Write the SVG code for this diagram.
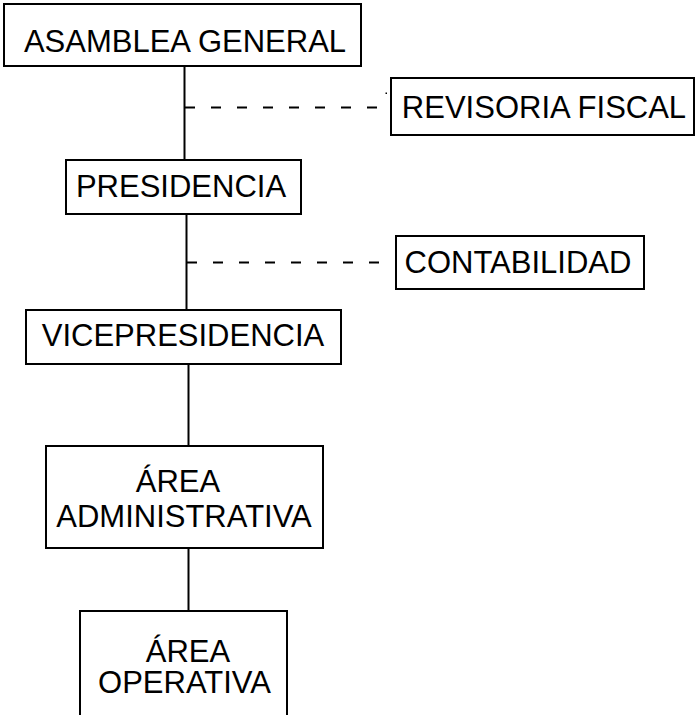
<svg xmlns="http://www.w3.org/2000/svg" width="695" height="715" viewBox="0 0 695 715">
<style>
.box{fill:#fff;stroke:#000;stroke-width:2}
.t{font-family:"Liberation Sans",Arial,sans-serif;font-size:31px;fill:#000;text-anchor:middle}
.ln{stroke:#000;stroke-width:2;fill:none}
.dash{stroke:#000;stroke-width:2;fill:none;stroke-dasharray:10 16}
</style>
<rect width="695" height="715" fill="#fff"/>
<g id="connectors">
<line class="ln" x1="184.5" y1="66" x2="184.5" y2="160"/>
<line class="dash" x1="185" y1="107.5" x2="391" y2="107.5"/>
<line class="ln" x1="186.5" y1="214" x2="186.5" y2="310"/>
<line class="dash" x1="187" y1="262.5" x2="396" y2="262.5"/>
<line class="ln" x1="188.5" y1="364" x2="188.5" y2="446"/>
<line class="ln" x1="188.5" y1="548" x2="188.5" y2="611"/>
<rect x="385.5" y="92.5" width="1.5" height="1.5" fill="#000"/>
</g>
<g id="asamblea">
<rect class="box" x="4" y="4" width="357" height="62"/>
<text class="t" x="185" y="52">ASAMBLEA GENERAL</text>
</g>
<g id="revisoria">
<rect class="box" x="391" y="78" width="303" height="57"/>
<text class="t" x="544" y="118">REVISORIA FISCAL</text>
</g>
<g id="presidencia">
<rect class="box" x="66" y="160" width="235" height="54"/>
<text class="t" x="181" y="197">PRESIDENCIA</text>
</g>
<g id="contabilidad">
<rect class="box" x="396" y="236" width="248" height="53"/>
<text class="t" x="518" y="273">CONTABILIDAD</text>
</g>
<g id="vicepresidencia">
<rect class="box" x="26" y="310" width="315" height="54"/>
<text class="t" x="183" y="346">VICEPRESIDENCIA</text>
</g>
<g id="area-administrativa">
<rect class="box" x="46" y="446" width="277" height="102"/>
<text class="t" x="178" y="492">ÁREA</text>
<text class="t" x="184" y="527">ADMINISTRATIVA</text>
</g>
<g id="area-operativa">
<rect class="box" x="80" y="611" width="207" height="112"/>
<text class="t" x="188" y="662">ÁREA</text>
<text class="t" x="184.5" y="693">OPERATIVA</text>
</g>
</svg>
